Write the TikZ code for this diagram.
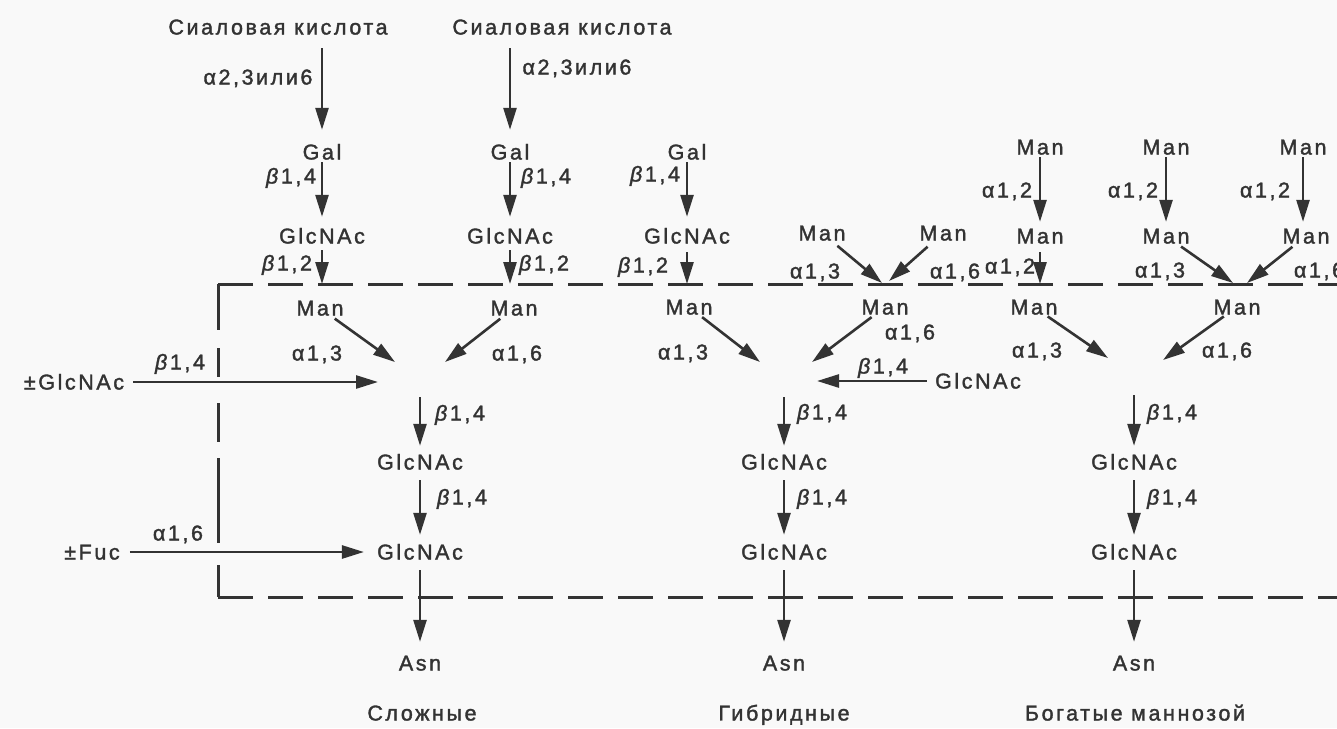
\documentclass[tikz,border=0pt]{standalone}
\usepackage{fontspec}
\setmainfont{Liberation Sans}[LetterSpace=12, FakeBold=1.6]
\usetikzlibrary{arrows.meta}
\definecolor{ink}{HTML}{333333}
\definecolor{paper}{HTML}{F9F9F9}
\begin{document}
\begin{tikzpicture}[x=1pt,y=-1pt,
  t/.style={inner sep=0pt, text height=15pt, text depth=0pt, font=\fontsize{21.5}{24}\selectfont, text=ink},
  arr/.style={draw=ink, line width=2.6pt, -{Triangle[length=22pt,width=13pt]}},
  dsh/.style={draw=ink, line width=3pt, dash pattern=on 35pt off 15pt},
  sol/.style={draw=ink, line width=3pt}]
\fill[paper] (0,0) rectangle (1337,728);
\useasboundingbox (0,0) rectangle (1337,728);
\clip (0,0) rectangle (1337,728);

% dashed frame
\coordinate (ctop) at (218,284);
\coordinate (cbot) at (218,597);
\coordinate (rtop) at (1345,284);
\coordinate (rbot) at (1345,597);
\draw[dsh] (ctop) -- (rtop);
\draw[dsh] (cbot) -- (rbot);
\draw[sol] (218,284) -- (218,330);
\draw[sol] (218,348) -- (218,377);
\draw[sol] (218,403) -- (218,442);
\draw[sol] (218,458) -- (218,543);
\draw[sol] (218,565) -- (218,597);

% ---------- column 1: complex ----------
\node[t] (sia1) at (278,27) {Сиаловая кислота};
\node[t] (sia2) at (562,27) {Сиаловая кислота};
\node[t] (gal1) at (322,152) {Gal};
\node[t] (gal2) at (510,152) {Gal};
\node[t] (glc1) at (322,236) {GlcNAc};
\node[t] (glc2) at (510,236) {GlcNAc};
\node[t] (man1) at (320,308) {Man};
\node[t] (man2) at (514,308) {Man};
\node[t] (pglc) at (74,382) {±GlcNAc};
\node[t] (pfuc) at (92,552) {±Fuc};
\node[t] (cglc1) at (420,462) {GlcNAc};
\node[t] (cglc2) at (420,552) {GlcNAc};
\node[t] (asn1) at (420,663) {Asn};
\node[t] (tit1) at (422,713) {Сложные};

\node[t] (l1) at (258,77) {α2,3или6};
\node[t] (l2) at (577,67) {α2,3или6};
\node[t] (l3) at (291,176) {\textit{β}1,4};
\node[t] (l4) at (546,176) {\textit{β}1,4};
\node[t] (l5) at (287,263) {\textit{β}1,2};
\node[t] (l6) at (544,263) {\textit{β}1,2};
\node[t] (l7) at (317,353) {α1,3};
\node[t] (l8) at (517,353) {α1,6};
\node[t] (l9) at (180,362) {\textit{β}1,4};
\node[t] (l10) at (178,533) {α1,6};
\node[t] (l11) at (460,413) {\textit{β}1,4};
\node[t] (l12) at (462,497) {\textit{β}1,4};

\coordinate (j1a) at (395,362);
\coordinate (j1b) at (445,362);
\coordinate (j1h) at (378,382);
\coordinate (j1d) at (420,397);

\draw[arr, shorten <=13.5pt, shorten >=14.5pt] (gal1 |- sia1.south) -- (gal1);
\draw[arr, shorten <=13.5pt, shorten >=14.5pt] (gal2 |- sia2.south) -- (gal2);
\draw[arr, shorten <=2.5pt, shorten >=11.5pt] (gal1) -- (glc1);
\draw[arr, shorten <=2.5pt, shorten >=11.5pt] (gal2) -- (glc2);
\draw[arr, shorten <=6.5pt] (glc1) -- (glc1 |- ctop);
\draw[arr, shorten <=6.5pt] (glc2) -- (glc2 |- ctop);
\draw[arr, shorten <=5pt] (man1) -- (j1a);
\draw[arr, shorten <=5pt] (man2) -- (j1b);
\draw[arr, shorten <=9pt] (pglc) -- (j1h);
\draw[arr, shorten >=8.5pt] (j1d) -- (cglc1);
\draw[arr, shorten <=10.5pt, shorten >=9.5pt] (cglc1) -- (cglc2);
\draw[arr, shorten <=10pt, shorten >=13pt] (pfuc) -- (cglc2);
\draw[arr, shorten <=10.5pt, shorten >=13.5pt] (cglc2) -- (asn1);

% ---------- column 2: hybrid ----------
\node[t] (gal3) at (687,152) {Gal};
\node[t] (glc3) at (687,236) {GlcNAc};
\node[t] (man3) at (689,307) {Man};
\node[t] (man4) at (822,233) {Man};
\node[t] (man5) at (943,233) {Man};
\node[t] (man6) at (885,307) {Man};
\node[t] (hglc) at (978,381) {GlcNAc};
\node[t] (cglc3) at (784,462) {GlcNAc};
\node[t] (cglc4) at (784,552) {GlcNAc};
\node[t] (asn2) at (784,663) {Asn};
\node[t] (tit2) at (784,713) {Гибридные};

\node[t] (k1) at (655,174) {\textit{β}1,4};
\node[t] (k2) at (643,265) {\textit{β}1,2};
\node[t] (k3) at (815,271) {α1,3};
\node[t] (k4) at (955,271) {α1,6};
\node[t] (k5) at (683,352) {α1,3};
\node[t] (k6) at (910,332) {α1,6};
\node[t] (k7) at (883,366) {\textit{β}1,4};
\node[t] (k8) at (822,412) {\textit{β}1,4};
\node[t] (k9) at (822,497) {\textit{β}1,4};

\coordinate (j2u1) at (882,283);
\coordinate (j2u2) at (889,281);
\coordinate (j2a) at (760,362);
\coordinate (j2b) at (812,362);
\coordinate (j2h) at (817,381);
\coordinate (j2d) at (784,397);

\draw[arr, shorten <=2.5pt, shorten >=11.5pt] (gal3) -- (glc3);
\draw[arr, shorten <=8.5pt] (glc3) -- (glc3 |- ctop);
\draw[arr, shorten <=8pt] (man4) -- (j2u1);
\draw[arr, shorten <=9pt] (man5) -- (j2u2);
\draw[arr, shorten <=4pt] (man3) -- (j2a);
\draw[arr, shorten <=4pt] (man6) -- (j2b);
\draw[arr, shorten <=8pt] (hglc) -- (j2h);
\draw[arr, shorten >=8.5pt] (j2d) -- (cglc3);
\draw[arr, shorten <=10.5pt, shorten >=9.5pt] (cglc3) -- (cglc4);
\draw[arr, shorten <=10.5pt, shorten >=13.5pt] (cglc4) -- (asn2);

% ---------- column 3: high mannose ----------
\node[t] (m31) at (1040,147) {Man};
\node[t] (m32) at (1166,147) {Man};
\node[t] (m33) at (1303,147) {Man};
\node[t] (m34) at (1040,236) {Man};
\node[t] (m35) at (1166,236) {Man};
\node[t] (m36) at (1306,236) {Man};
\node[t] (m37) at (1034,307) {Man};
\node[t] (m38) at (1237,307) {Man};
\node[t] (cglc5) at (1134,462) {GlcNAc};
\node[t] (cglc6) at (1134,552) {GlcNAc};
\node[t] (asn3) at (1134,663) {Asn};
\node[t] (tit3) at (1135,713) {Богатые маннозой};

\node[t] (n1) at (1007,190) {α1,2};
\node[t] (n2) at (1133,190) {α1,2};
\node[t] (n3) at (1265,190) {α1,2};
\node[t] (n4) at (1010,266) {α1,2};
\node[t] (n5) at (1160,270) {α1,3};
\node[t] (n6) at (1319,270) {α1,6};
\node[t] (n7) at (1037,350) {α1,3};
\node[t] (n8) at (1227,350) {α1,6};
\node[t] (n9) at (1172,412) {\textit{β}1,4};
\node[t] (n10) at (1172,497) {\textit{β}1,4};

\coordinate (j3u1) at (1233,283);
\coordinate (j3u2) at (1247,283);
\coordinate (j3a) at (1108,358);
\coordinate (j3b) at (1163,360);
\coordinate (j3d) at (1134,395);

\draw[arr, shorten <=2.5pt, shorten >=6.5pt] (m31) -- (m34);
\draw[arr, shorten <=2.5pt, shorten >=6.5pt] (m32) -- (m35);
\draw[arr, shorten <=2.5pt, shorten >=6.5pt] (m33) -- (m33 |- m36.north);
\draw[arr, shorten <=8.5pt] (m34) -- (m34 |- ctop);
\draw[arr, shorten <=5pt] (m35) -- (j3u1);
\draw[arr, shorten <=5pt] (m36) -- (j3u2);
\draw[arr, shorten <=3pt] (m37) -- (j3a);
\draw[arr, shorten <=3pt] (m38) -- (j3b);
\draw[arr, shorten >=8.5pt] (j3d) -- (cglc5);
\draw[arr, shorten <=10.5pt, shorten >=9.5pt] (cglc5) -- (cglc6);
\draw[arr, shorten <=10.5pt, shorten >=13.5pt] (cglc6) -- (asn3);
\end{tikzpicture}
\end{document}
